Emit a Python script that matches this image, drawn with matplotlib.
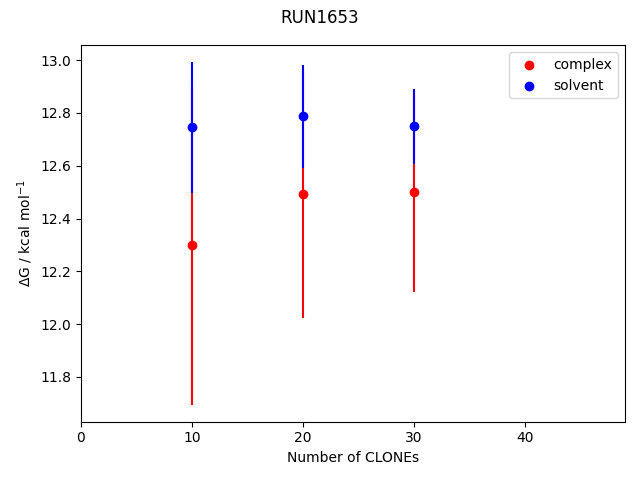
import numpy as np
import matplotlib
matplotlib.use('Agg')
import matplotlib.pyplot as plt

# valores
n_clones = [10, 20, 30]
complex_dg = [12.298, 12.491, 12.502]
complex_err = [0.603, 0.467, 0.380]
solvent_dg = [12.745, 12.788, 12.749]
solvent_err = [0.247, 0.195, 0.141]

fig, ax = plt.subplots(figsize=(6.4, 4.8), dpi=100)

ax.errorbar(n_clones, complex_dg, yerr=complex_err, fmt='none', ecolor='red')
ax.errorbar(n_clones, solvent_dg, yerr=solvent_err, fmt='none', ecolor='blue')
ax.scatter(n_clones, complex_dg, color='red', label='complex', zorder=3)
ax.scatter(n_clones, solvent_dg, color='blue', label='solvent', zorder=3)

ax.set_xlim(0, 49)
ax.set_xlabel('Number of CLONEs')
ax.set_ylabel(r'$\Delta$G / kcal mol$^{-1}$')
ax.legend(loc='upper right')
fig.suptitle('RUN1653', y=0.982)
fig.tight_layout()
fig.subplots_adjust(top=0.906)
fig.savefig('out.png')
